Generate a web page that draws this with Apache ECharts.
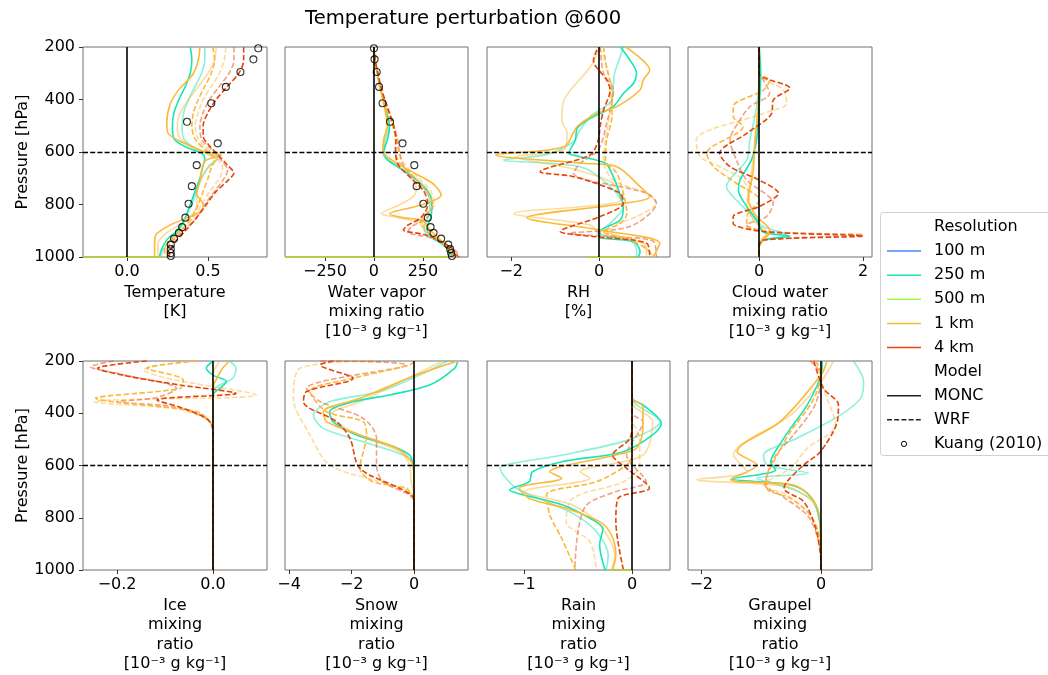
<!DOCTYPE html>
<html><head><meta charset="utf-8">
<script src="https://cdn.jsdelivr.net/npm/echarts@6/dist/echarts.min.js"></script>
<style>html,body{margin:0;padding:0;background:#fff}#c{width:1048px;height:675px}</style>
</head><body><div id="c"></div><script>
// ---------------- DATA ----------------
// each panel: 8 profiles [value, pressure(hPa)] in order:
// 250 m MONC, 250 m MONC (faded), 1 km MONC, 1 km MONC (faded), 1 km WRF, 1 km WRF (faded), 4 km WRF, 4 km WRF (faded)
const temperatureLines = [
 [[0.39,200],[0.40,250],[0.39,300],[0.36,350],[0.32,400],[0.29,450],[0.28,500],[0.29,550],[0.36,580],[0.46,605],[0.48,625],[0.47,650],[0.45,700],[0.42,750],[0.39,800],[0.36,850],[0.31,900],[0.26,925],[0.23,950],[0.21,975],[0.20,1000]],
 [[0.48,200],[0.48,250],[0.46,300],[0.42,350],[0.38,400],[0.35,450],[0.34,500],[0.35,550],[0.42,585],[0.50,605],[0.56,625],[0.51,650],[0.46,700],[0.43,750],[0.40,800],[0.36,850],[0.32,900],[0.28,925],[0.25,950],[0.22,975],[0.21,1000]],
 [[0.45,200],[0.44,250],[0.41,300],[0.37,330],[0.31,370],[0.265,420],[0.245,490],[0.255,530],[0.33,560],[0.47,597],[0.58,612],[0.48,635],[0.45,710],[0.43,760],[0.47,800],[0.46,825],[0.37,851],[0.26,880],[0.18,914],[0.17,950],[0.17,1000]],
 [[0.55,200],[0.54,250],[0.50,300],[0.44,350],[0.38,400],[0.33,450],[0.31,500],[0.33,550],[0.42,585],[0.50,610],[0.55,630],[0.50,660],[0.45,710],[0.43,760],[0.43,800],[0.40,840],[0.32,880],[0.24,910],[0.19,950],[0.19,1000]],
 [[0.53,200],[0.54,250],[0.52,300],[0.48,350],[0.44,400],[0.41,450],[0.40,500],[0.42,550],[0.48,590],[0.52,610],[0.54,630],[0.52,660],[0.50,700],[0.47,750],[0.44,800],[0.40,850],[0.33,900],[0.26,940],[0.23,970],[0.23,1000]],
 [[0.61,200],[0.60,250],[0.57,300],[0.52,350],[0.47,400],[0.44,450],[0.42,500],[0.44,550],[0.50,590],[0.55,620],[0.59,660],[0.57,700],[0.51,750],[0.46,800],[0.41,850],[0.34,900],[0.27,940],[0.24,970],[0.24,1000]],
 [[0.72,200],[0.72,250],[0.69,300],[0.62,350],[0.55,400],[0.50,450],[0.47,500],[0.47,540],[0.50,570],[0.56,610],[0.62,650],[0.66,680],[0.62,710],[0.55,750],[0.49,800],[0.43,850],[0.36,900],[0.30,940],[0.27,970],[0.26,1000]],
 [[0.66,200],[0.66,250],[0.63,300],[0.57,350],[0.51,400],[0.47,450],[0.45,500],[0.46,550],[0.52,590],[0.58,630],[0.62,670],[0.60,700],[0.54,750],[0.48,800],[0.43,850],[0.35,900],[0.28,940],[0.25,970],[0.25,1000]]
];
const vaporLines = [
 [[0,200],[5,250],[18,300],[30,350],[48,400],[65,450],[80,500],[70,550],[50,600],[70,630],[150,670],[240,720],[290,770],[295,810],[290,850],[270,890],[290,920],[340,945],[380,970],[400,1000]],
 [[0,200],[5,250],[18,300],[30,350],[48,400],[65,450],[78,500],[60,550],[45,600],[60,625],[130,660],[220,710],[275,760],[285,810],[275,850],[255,890],[280,920],[335,945],[375,970],[395,1000]],
 [[0,200],[5,250],[18,300],[30,350],[45,400],[60,450],[70,500],[50,550],[45,600],[90,630],[180,670],[300,720],[343,764],[250,800],[80,836],[150,850],[250,862],[290,900],[330,930],[370,960],[410,1000]],
 [[0,200],[5,250],[18,300],[30,350],[45,400],[58,450],[65,500],[55,550],[55,600],[100,640],[180,690],[216,740],[200,770],[120,805],[37,834],[120,850],[240,870],[290,900],[335,930],[375,960],[405,1000]],
 [[0,200],[5,250],[18,300],[32,350],[50,400],[70,450],[95,500],[110,550],[110,600],[140,650],[210,700],[270,750],[300,800],[265,840],[245,870],[265,900],[320,930],[365,960],[420,1000]],
 [[0,200],[5,250],[18,300],[32,350],[50,400],[72,450],[98,500],[115,550],[125,600],[160,650],[230,700],[290,750],[310,800],[255,840],[235,870],[260,900],[320,930],[370,960],[425,1000]],
 [[0,200],[6,250],[20,300],[35,350],[55,400],[78,450],[100,500],[112,550],[110,600],[125,650],[190,700],[255,750],[275,800],[240,850],[170,880],[150,897],[260,915],[340,940],[400,970],[430,1000]],
 [[0,200],[6,250],[20,300],[35,350],[55,400],[80,450],[102,500],[120,550],[130,600],[150,650],[210,700],[270,750],[300,800],[270,850],[190,885],[175,905],[280,925],[360,950],[415,975],[437,1000]]
];
const rhLines = [
 [[0.48,200],[0.70,250],[0.85,300],[0.78,338],[0.55,377],[0.32,427],[-0.2,472],[-0.5,510],[-0.54,554],[-0.69,605],[-0.5,615],[0.14,643],[0.32,694],[0.45,750],[0.55,808],[0.48,859],[0.02,903],[0.02,925],[0.78,942],[0.93,980],[0.89,1000]],
 [[0.55,200],[0.45,250],[0.35,300],[0.32,350],[0.29,402],[-0.2,465],[-0.45,520],[-0.58,560],[-1.2,610],[-2.17,630],[-0.43,656],[0.17,719],[0.55,808],[0.17,884],[-0.05,910],[0.70,935],[0.85,975],[0.85,1000]],
 [[0.6,200],[1.15,288],[1.0,326],[0.93,364],[0.40,427],[-0.05,453],[-0.5,503],[-0.8,580],[-2.35,611],[-0.35,643],[0.40,656],[0.93,732],[1.15,770],[0.40,800],[-1.64,850],[0.0,897],[1.38,948],[1.23,1000]],
 [[0.02,200],[-0.2,275],[-0.8,402],[-0.85,478],[-0.73,529],[-0.8,592],[-1.9,618],[-0.66,662],[0.32,719],[0.48,783],[-1.94,834],[-0.2,878],[0.02,910],[1.0,948],[1.08,1000]],
 [[0.1,200],[0.17,280],[0.29,364],[0.29,465],[0.17,554],[0.14,630],[0.40,681],[0.55,757],[0.63,834],[0.48,872],[0.1,903],[0.70,935],[1.15,986],[1.12,1000]],
 [[0.02,200],[0.21,300],[0.25,430],[0.14,554],[0.1,630],[0.32,707],[1.08,757],[1.3,795],[0.85,846],[0.1,897],[0.93,942],[1.23,1000]],
 [[-0.05,211],[-0.13,250],[0.17,326],[0.25,364],[0.1,440],[0.02,503],[-0.02,554],[-0.2,611],[-1.34,675],[-0.58,694],[0.48,757],[0.55,795],[0.02,846],[-0.88,903],[-0.13,922],[1.08,948],[1.15,1000]],
 [[0.02,200],[0.1,300],[0.32,364],[0.17,491],[-0.02,592],[-0.43,643],[-0.58,681],[1.08,757],[1.3,795],[0.7,884],[-0.66,910],[0.17,922],[1.23,940],[1.3,1000]]
];
const cloudLines = [
 [[0,200],[0.03,300],[0,427],[-0.05,554],[-0.15,630],[-0.37,707],[-0.40,745],[-0.24,808],[-0.05,859],[0.08,905],[0.59,920],[0.08,935],[0,960],[0,1000]],
 [[0,200],[0,300],[-0.05,427],[-0.18,554],[-0.24,630],[-0.63,732],[-0.44,783],[-0.18,834],[0.08,884],[0.53,916],[0,948],[0,1000]],
 [[0,200],[0,300],[-0.02,427],[-0.08,554],[-0.12,681],[-0.21,783],[-0.05,846],[0.2,897],[0.08,935],[0,960],[0,1000]],
 [[0,200],[0,364],[-0.08,554],[-0.15,681],[-0.24,808],[-0.05,872],[0.14,910],[0,950],[0,1000]],
 [[0,200],[0,300],[0.2,326],[0.08,364],[-0.5,427],[-0.5,465],[-0.31,503],[-1.01,605],[-0.88,656],[-0.44,719],[0,783],[-0.24,846],[-0.24,884],[0.2,910],[0.08,935],[0,960],[0,1000]],
 [[0,200],[0,300],[0.14,326],[0.46,364],[0.53,415],[0.08,453],[-1.21,554],[-1.14,618],[-0.76,656],[-0.31,707],[-0.18,783],[-0.12,859],[0.14,910],[0,950],[0,1000]],
 [[0,200],[0,300],[0.59,357],[0.27,402],[0.24,453],[-0.24,529],[-0.76,605],[-0.56,656],[0,707],[0.37,757],[0,808],[-0.5,846],[-0.5,872],[0.08,903],[2.0,920],[0.08,935],[0,960],[0,1000]],
 [[0,200],[0,300],[0.08,326],[0.2,377],[-0.18,427],[-0.37,478],[-0.56,554],[-0.44,630],[-0.24,707],[0.27,795],[0.14,846],[-0.24,878],[0.14,903],[2.0,916],[0.08,935],[0,960],[0,1000]]
];
const iceLines = [
 [[0,200],[-0.014,228],[0,254],[0.028,279],[0.014,305],[0,330],[0,1000]],
 [[0.034,200],[0.048,228],[0.041,266],[0.014,292],[0,315],[0,1000]],
 [[0.034,200],[0.02,228],[0.007,270],[0,300],[0,1000]],
 [[0.014,200],[0,254],[0,1000]],
 [[-0.034,200],[-0.138,228],[-0.062,273],[-0.069,305],[-0.245,343],[-0.207,356],[-0.034,394],[-0.007,432],[0,470],[0,1000]],
 [[-0.034,200],[-0.145,234],[-0.097,266],[0.09,330],[-0.207,349],[-0.248,356],[-0.069,385],[-0.007,432],[0,470],[0,1000]],
 [[-0.138,200],[-0.241,228],[-0.172,260],[-0.069,292],[0.048,324],[-0.117,349],[-0.062,381],[-0.014,419],[-0.003,445],[0,470],[0,1000]],
 [[-0.207,200],[-0.255,222],[-0.193,250],[-0.076,305],[-0.117,340],[-0.2,356],[-0.083,375],[-0.014,419],[0,460],[0,1000]]
];
const snowLines = [
 [[1.40,200],[1.3,228],[0.5,292],[-0.78,330],[-1.95,356],[-2.7,394],[-2.6,432],[-1.84,483],[-0.78,522],[-0.14,560],[-0.03,598],[0,650],[0,1000]],
 [[1.08,200],[0.18,254],[-1.1,317],[-2.7,356],[-3.22,407],[-2.9,458],[-1.63,509],[-0.35,560],[0,598],[0,1000]],
 [[1.40,200],[0.07,254],[-1.73,343],[-2.9,394],[-2.8,432],[-1.73,483],[-0.56,534],[-0.09,585],[0,640],[0,1000]],
 [[0.93,200],[0,254],[-1.73,356],[-2.7,407],[-2.37,445],[-1.52,496],[-0.46,547],[-0.14,598],[-0.09,662],[0,713],[0,1000]],
 [[0,200],[-0.14,215],[-1.95,266],[-3.33,317],[-2.8,394],[-1.63,432],[-1.52,483],[-1.73,611],[-1.31,662],[-0.24,687],[-0.09,713],[0,730],[0,1000]],
 [[-1.31,200],[-3.65,228],[-3.86,343],[-3.33,483],[-2.7,598],[-1.1,662],[-0.14,700],[0,730],[0,1000]],
 [[-2.58,200],[-3.0,215],[-1.95,266],[-3.44,317],[-3.54,356],[-2.48,432],[-2.05,496],[-1.73,611],[-0.46,687],[-0.03,719],[0,740],[0,1000]],
 [[-3.0,200],[-0.24,215],[-3.44,305],[-3.0,356],[-1.63,419],[-1.2,496],[-1.2,598],[-0.99,662],[-0.14,713],[0,740],[0,1000]]
];
const rainLines = [
 [[0,200],[0,343],[0.1,368],[0.27,439],[0.19,483],[-0.08,547],[-0.64,585],[-0.92,624],[-0.95,662],[-1.13,694],[-1.0,713],[-0.64,751],[-0.39,802],[-0.27,841],[-0.3,904],[-0.25,1000]],
 [[0,200],[0,340],[0.03,365],[0.26,432],[-0.02,500],[-0.64,560],[-1.22,611],[-1.19,636],[-1.07,687],[-0.79,738],[-0.52,790],[-0.33,853],[-0.22,943],[-0.24,1000]],
 [[0,200],[0,340],[0.1,375],[0.1,458],[0.04,534],[-0.15,560],[-0.76,624],[-0.65,649],[-1.04,687],[-0.95,726],[-0.61,764],[-0.3,815],[-0.19,866],[-0.15,943],[-0.18,1000]],
 [[0,200],[0,360],[0.19,432],[0.1,560],[-0.48,624],[-0.39,649],[-1.0,700],[-0.55,751],[-0.3,828],[-0.16,943],[-0.19,1000]],
 [[0,200],[0,560],[-0.05,598],[-0.33,662],[-0.79,713],[-0.76,790],[-0.65,879],[-0.52,1000]],
 [[0,200],[0,420],[0.07,496],[0.07,598],[-0.08,662],[-0.55,726],[-0.61,815],[-0.39,892],[-0.33,1000]],
 [[0,200],[0,430],[-0.02,496],[-0.18,560],[-0.05,611],[0.16,687],[-0.13,726],[-0.15,815],[-0.08,1000]],
 [[0,200],[0,400],[0.1,432],[-0.05,560],[0.13,662],[-0.15,700],[-0.42,751],[-0.5,853],[-0.53,1000]]
];
const graupelLines = [
 [[0.02,200],[0,254],[-0.23,368],[-0.51,458],[-0.73,534],[-0.84,585],[-0.76,617],[-1.48,652],[-0.68,668],[-0.34,688],[-0.12,738],[-0.02,815],[0,900],[0,1000]],
 [[0.54,200],[0.71,279],[0.66,343],[0.32,407],[-0.4,496],[-0.96,560],[-0.9,598],[-0.21,630],[-1.07,649],[-0.51,688],[-0.12,738],[-0.02,815],[0,1000]],
 [[0.1,200],[0,254],[-0.68,432],[-1.4,547],[-1.07,598],[-1.51,654],[-0.46,675],[-0.15,726],[-0.01,815],[0,1000]],
 [[0.21,200],[0,279],[-0.51,407],[-1.46,560],[-1.23,624],[-2.07,654],[-0.57,681],[-0.15,738],[-0.02,820],[0,1000]],
 [[-0.09,200],[0,254],[-0.15,356],[-0.51,470],[-0.73,560],[-0.9,649],[-0.9,688],[-0.51,726],[-0.18,790],[-0.02,880],[0,1000]],
 [[-0.07,200],[0.04,305],[0.24,445],[-0.23,534],[-0.51,611],[-0.96,675],[-0.57,713],[-0.18,790],[-0.03,870],[0,1000]],
 [[-0.12,200],[0.04,305],[0.29,368],[0.27,432],[-0.01,547],[-0.29,598],[-0.57,662],[-0.62,688],[-0.29,738],[-0.09,840],[-0.01,940],[0,1000]],
 [[-0.18,200],[0,254],[-0.1,368],[-0.46,483],[-0.79,573],[-0.93,675],[-0.68,713],[-0.23,790],[-0.07,866],[0,950],[0,1000]]
];
// Kuang (2010) reference profile
const kuangPressure    = [205,247,295,352,414,485,567,650,730,797,850,886,908,930,953,970,985,996];
const kuangTemperature = [0.81,0.78,0.70,0.61,0.52,0.37,0.56,0.43,0.40,0.38,0.36,0.34,0.32,0.29,0.27,0.27,0.27,0.27];
const kuangVapor       = [0,3,14,26,44,82,146,206,218,252,275,289,304,343,379,389,394,398];
// near-surface segment of the 100 m / 500 m runs (x-extent at 1000 hPa)
const tempSurface  = [-0.272, 0.21];
const vaporSurface = [-454, 380];
const rhSurface    = [-0.28, 0.85];
const rainSurface  = [-0.2, 0];
// tick labels
const temperatureTicks = [0, 0.5];
const vaporTicks = [-250, 0, 250];
const rhTicks = [-2, 0];
const cloudTicks = [0, 2];
const iceTicks = [-0.2, 0];
const snowTicks = [-4, -2, 0];
const rainTicks = [-1, 0];
const graupelTicks = [-2, 0];
const pressureTicks = [200, 400, 600, 800, 1000];
const unitLabel = '[10\u207B\u00B3 g kg\u207B\u00B9]';

// ---------------- STYLE / LAYOUT ----------------
const C100='#4686FB', C250='#1AE4B6', C500='#A4FC3C', C1K='#FBB938', C4K='#E4460A';
const lineStyles = [
 {color:C250, op:1, dash:false},{color:C250, op:0.5, dash:false},
 {color:C1K, op:1, dash:false},{color:C1K, op:0.5, dash:false},
 {color:C1K, op:1, dash:true},{color:C1K, op:0.5, dash:true},
 {color:C4K, op:1, dash:true},{color:C4K, op:0.5, dash:true}
];
const drawOrder = [1,3,5,7,0,2,4,6];
const panels = [
 {lines:temperatureLines, min:-0.272, max:0.864, ticks:temperatureTicks, dec:1, name:'Temperature\n[K]', kuang:kuangTemperature, surface:tempSurface},
 {lines:vaporLines, min:-454, max:480, ticks:vaporTicks, dec:0, name:'Water vapor\nmixing ratio\n'+unitLabel, kuang:kuangVapor, surface:vaporSurface},
 {lines:rhLines, min:-2.55, max:1.61, ticks:rhTicks, dec:0, name:'RH\n[%]', surface:rhSurface},
 {lines:cloudLines, min:-1.37, max:2.17, ticks:cloudTicks, dec:0, name:'Cloud water\nmixing ratio\n'+unitLabel},
 {lines:iceLines, min:-0.271, max:0.1125, ticks:iceTicks, dec:1, name:'Ice\nmixing\nratio\n'+unitLabel},
 {lines:snowLines, min:-4.13, max:1.73, ticks:snowTicks, dec:0, name:'Snow\nmixing\nratio\n'+unitLabel},
 {lines:rainLines, min:-1.34, max:0.35, ticks:rainTicks, dec:0, name:'Rain\nmixing\nratio\n'+unitLabel, surface:rainSurface},
 {lines:graupelLines, min:-2.22, max:0.85, ticks:graupelTicks, dec:0, name:'Graupel\nmixing\nratio\n'+unitLabel}
];
const colLeft=[83,285,487,688], colWidth=[184,183,183,184], rowTop=[47,361], rowHeight=[210,209];
const FONT='DejaVu Sans';
const SPINE='#707070';
function fmt(v,dec){ const s=Math.abs(v).toFixed(dec); return (v<0?'\u2212':'')+s; }

const grids=[], xAxes=[], yAxes=[], series=[];
panels.forEach((p,i)=>{
  const r=Math.floor(i/4), c=i%4;
  grids.push({left:colLeft[c], top:rowTop[r], width:colWidth[c], height:rowHeight[r], show:true, borderColor:SPINE, borderWidth:1, backgroundColor:'rgba(0,0,0,0)', containLabel:false, outerBoundsMode:'none'});
  xAxes.push({type:'value', gridIndex:i, min:p.min, max:p.max, position:'bottom', splitLine:{show:false}, axisLine:{show:false, onZero:false},
    axisTick:{show:true, customValues:p.ticks, length:4, lineStyle:{color:'#333', width:1}},
    axisLabel:{show:true, customValues:p.ticks, formatter:v=>fmt(v,p.dec), margin:7, fontSize:16, color:'#000', fontFamily:FONT},
    name:p.name, nameLocation:'middle', nameGap:26, nameTextStyle:{fontSize:16, lineHeight:19.5, color:'#000', fontFamily:FONT}});
  yAxes.push({type:'value', gridIndex:i, min:200, max:1000, interval:200, inverse:true, position:'left', splitLine:{show:false}, axisLine:{show:false, onZero:false},
    axisTick:{show:c===0, customValues:pressureTicks, length:4, lineStyle:{color:'#333', width:1}},
    axisLabel:{show:c===0, customValues:pressureTicks, formatter:v=>String(v), fontSize:16, color:'#000', margin:8, fontFamily:FONT},
    name:c===0?'Pressure [hPa]':'', nameLocation:'middle', nameGap:52, nameTextStyle:{fontSize:16, color:'#000', fontFamily:FONT}});
  // reference lines: x=0 and 600 hPa
  series.push({type:'line', xAxisIndex:i, yAxisIndex:i, data:[], silent:true, z:1,
    markLine:{silent:true, symbol:['none','none'], label:{show:false}, animation:false,
      data:[{xAxis:0, lineStyle:{color:'#000', width:1.6, type:'solid'}},
            {yAxis:600, lineStyle:{color:'#000', width:1.4, type:[5,2.2]}}]}});
  if(p.surface){
    series.push({type:'line', xAxisIndex:i, yAxisIndex:i, data:p.surface.map(v=>[v,1000]), showSymbol:false, symbol:'none', silent:true, z:3,
      lineStyle:{color:'#b9c650', width:2}});
  }
  drawOrder.forEach(k=>{
    const st=lineStyles[k];
    series.push({type:'line', xAxisIndex:i, yAxisIndex:i, data:p.lines[k], showSymbol:false, symbol:'none', smooth:0.3, clip:true, silent:true, z:2,
      lineStyle:{color:st.color, width:1.6, opacity:st.op, type:st.dash?[5.5,2.4]:'solid'}});
  });
  if(p.kuang){
    series.push({type:'scatter', xAxisIndex:i, yAxisIndex:i, data:kuangPressure.map((pp,j)=>[p.kuang[j],pp]), symbol:'circle', symbolSize:7, silent:true, z:5,
      itemStyle:{color:'rgba(255,255,255,0)', borderColor:'#000', borderWidth:1.1}});
  }
});

// legend (drawn as graphic)
const legendEntries = [
 {label:'Resolution'},
 {label:'100 m', color:C100},{label:'250 m', color:C250},{label:'500 m', color:C500},{label:'1 km', color:C1K},{label:'4 km', color:C4K},
 {label:'Model'},
 {label:'MONC', color:'#222', dash:false},{label:'WRF', color:'#222', dash:true},{label:'Kuang (2010)', marker:true}
];
const legendChildren=[{type:'rect', shape:{x:880.5, y:212.5, width:200, height:243, r:3}, style:{fill:'rgba(255,255,255,0.8)', stroke:'#d0d0d0', lineWidth:1}}];
legendEntries.forEach((e,j)=>{
  const y=227+24.1*j;
  if(e.color) legendChildren.push({type:'line', shape:{x1:887, y1:y, x2:921, y2:y}, style:{stroke:e.color, lineWidth:1.5, lineDash:e.dash?[5,2.2]:null}});
  if(e.marker) legendChildren.push({type:'circle', shape:{cx:904, cy:y, r:2.6}, style:{fill:'#fff', stroke:'#000', lineWidth:1}});
  legendChildren.push({type:'text', x:934, y:y, style:{text:e.label, fontSize:16, fontFamily:FONT, fill:'#000', verticalAlign:'middle', align:'left'}});
});

const chart=echarts.init(document.getElementById('c'), null, {renderer:'canvas'});
chart.setOption({
  animation:false,
  backgroundColor:'#fff',
  textStyle:{fontFamily:FONT},
  title:{text:'Temperature perturbation @600', left:305, top:9, padding:0, textStyle:{fontSize:19.6, fontWeight:'normal', color:'#000', fontFamily:FONT}},
  grid:grids, xAxis:xAxes, yAxis:yAxes, series:series,
  graphic:[{type:'group', silent:true, children:legendChildren}]
});
</script></body></html>
